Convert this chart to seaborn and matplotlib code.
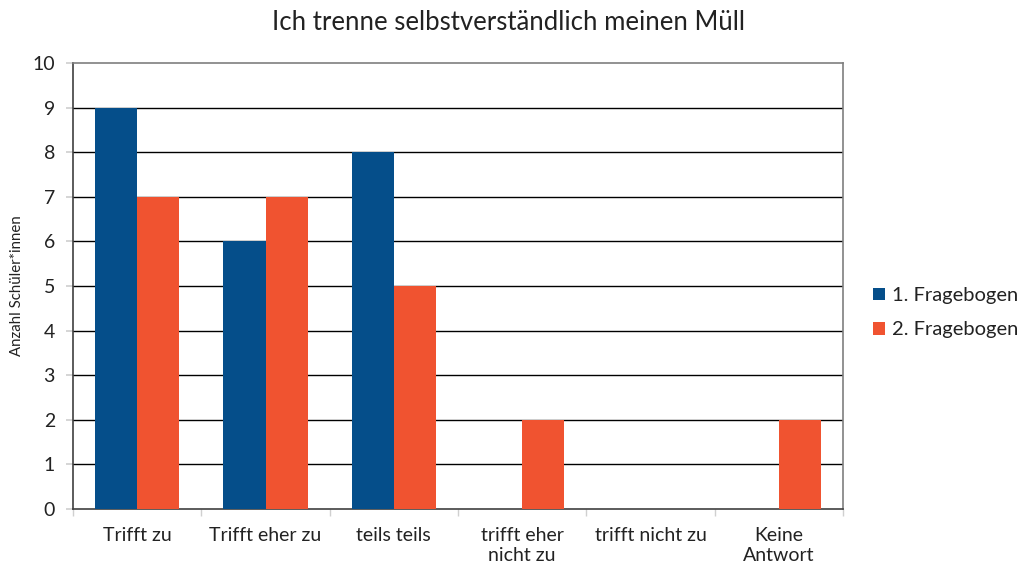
import pandas as pd
import matplotlib
matplotlib.use('Agg')
import matplotlib.pyplot as plt
import seaborn as sns

categories = ['Trifft zu', 'Trifft eher zu', 'teils teils', 'trifft eher\nnicht zu',
              'trifft nicht zu', 'Keine\nAntwort']
frage1 = [9, 6, 8, 0, 0, 0]
frage2 = [7, 7, 5, 2, 0, 2]
series = ['1. Fragebogen', '2. Fragebogen']
colors = ['#054e8a', '#f05330']

df = pd.DataFrame({
    'Kategorie': categories * 2,
    'Wert': frage1 + frage2,
    'Serie': [series[0]] * len(categories) + [series[1]] * len(categories),
})

sns.set_theme(style='white')
plt.rcParams['font.family'] = ['Lato', 'DejaVu Sans']

fig = plt.figure(figsize=(10.31, 5.76), dpi=100)
ax = fig.add_axes([73 / 1031, 1 - 509 / 576, 770 / 1031, 446 / 576])

sns.barplot(data=df, x='Kategorie', y='Wert', hue='Serie', palette=colors,
            saturation=1, width=0.655, ax=ax, zorder=3, linewidth=0)

ax.set_ylim(0, 10)
ax.set_xlim(-0.5, len(categories) - 0.5)
ax.set_yticks(range(0, 11))
for y in range(1, 10):
    ax.axhline(y, color='black', linewidth=1, zorder=1)

for s in ax.spines.values():
    s.set_color('#7f7f7f')
    s.set_linewidth(1.2)
ax.spines['left'].set_color('#404040')
ax.spines['bottom'].set_color('#404040')

ax.set_xticks([i - 0.5 for i in range(len(categories) + 1)], minor=True)
ax.tick_params(axis='x', which='major', length=0, pad=13, labelsize=14, labelcolor='#222222')
ax.tick_params(axis='x', which='minor', length=5, color='#d0d0d0', bottom=True)
ax.tick_params(axis='y', length=5, color='#d0d0d0', left=True, labelsize=14,
               labelcolor='#222222', pad=8)

ax.set_xlabel('')
ax.set_ylabel('Anzahl Schüler*innen', fontsize=10.8, color='#222222', labelpad=6)
ax.set_title('Ich trenne selbstverständlich meinen Müll', fontsize=18.5, color='#222222',
             pad=24, x=0.565)

ax.legend(title=None, frameon=False, loc='center left', bbox_to_anchor=(1.015, 0.44),
          fontsize=14.5, handlelength=0.6, handleheight=0.6, handletextpad=0.35,
          labelspacing=0.85, labelcolor='#222222')

fig.savefig('out.png', dpi=100)
